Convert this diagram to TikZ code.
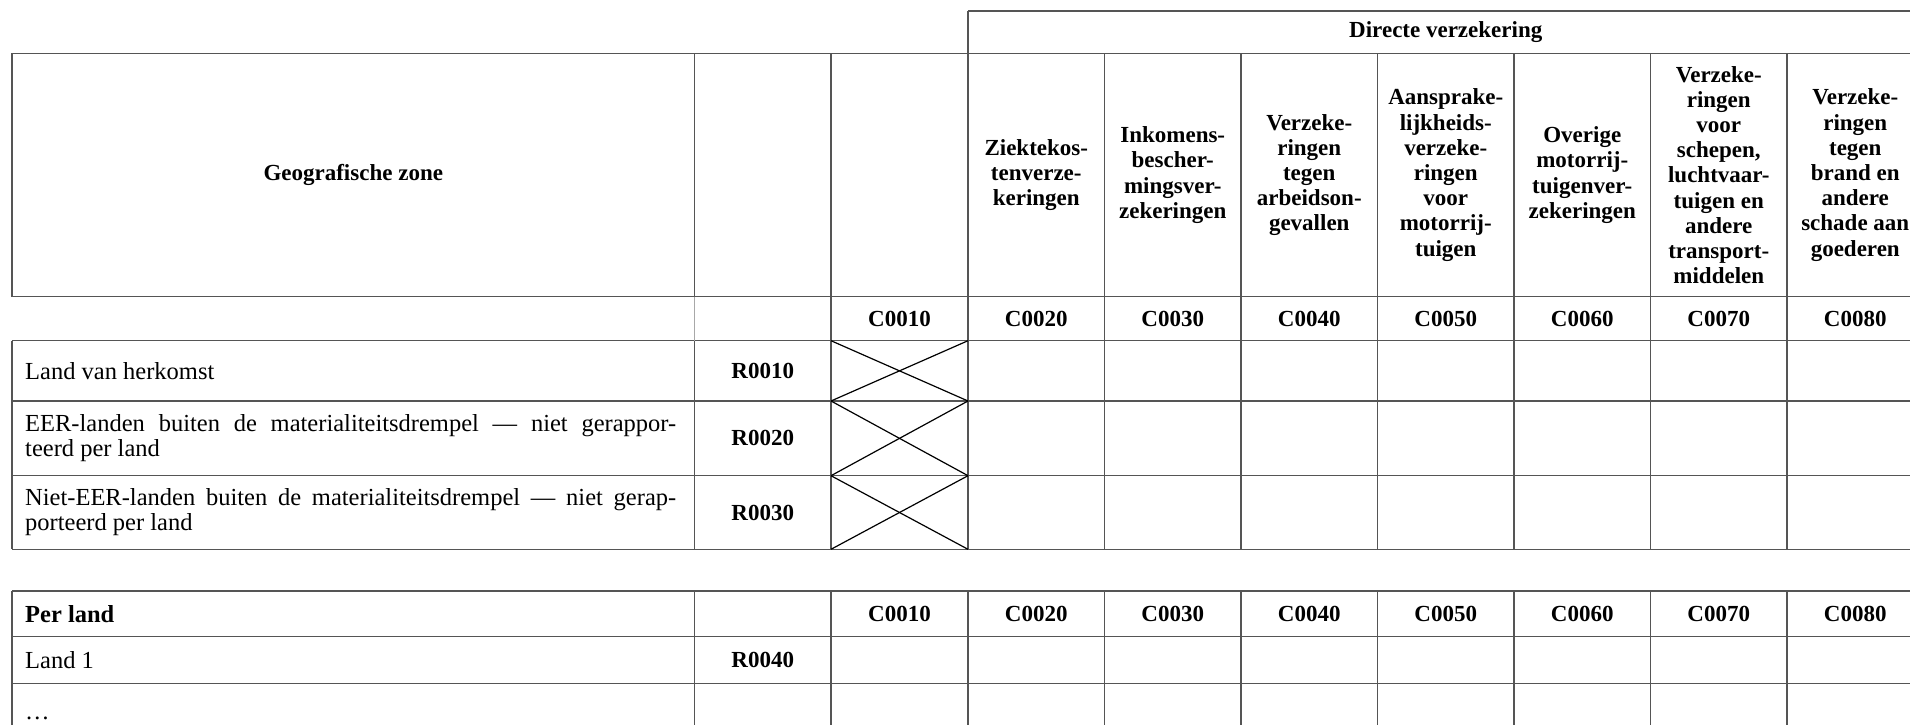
\documentclass[tikz,border=0pt]{standalone}
\usepackage{fontspec}
\setmainfont{Liberation Serif}
\definecolor{linegray}{HTML}{555555}
\definecolor{lightline}{HTML}{A8A8A8}
\begin{document}
\begin{tikzpicture}[x=1pt,y=-1pt,
  grid/.style={draw=linegray,line width=1.5pt},
  faint/.style={draw=lightline,line width=1.2pt},
  crossline/.style={draw=black,line width=1.2pt},
  hdr/.style={font=\fontsize{23}{25.2}\selectfont\bfseries,align=center,inner sep=0pt},
  code/.style={font=\fontsize{23}{25}\selectfont\bfseries,inner sep=0pt},
  lbl/.style={font=\fontsize{24.5}{25}\selectfont,inner sep=0pt,anchor=west},
  para/.style={font=\fontsize{24.5}{25}\selectfont,inner sep=0pt,anchor=west,text width=651pt,align=justify}]
\useasboundingbox (0,0) rectangle (1910,725);
\fill[white] (0,0) rectangle (1910,725);

% top box "Directe verzekering"
\draw[grid] (968,11) -- (1910,11);
\draw[grid] (968,11) -- (968,53.5);

% horizontal rules
\foreach \y in {53.5,296.5,340.7,401,475.7,549.3,591,636.7,683.3}
  \draw[grid] (12,\y) -- (1910,\y);

% left border
\draw[grid] (12,53.5) -- (12,296.5);
\draw[grid] (12,340.7) -- (12,549.3);
\draw[grid] (12,591) -- (12,725);

% vertical rules
\draw[grid] (694.5,53.5) -- (694.5,296.5);
\draw[faint] (694.5,296.5) -- (694.5,340.7);
\draw[grid] (694.5,340.7) -- (694.5,549.3);
\draw[grid] (694.5,591) -- (694.5,725);
\foreach \x in {831,968,1104.5,1241,1377.5,1514,1650.5,1787}{
  \draw[grid] (\x,53.5) -- (\x,549.3);
  \draw[grid] (\x,591) -- (\x,725);
}

% crossed cells
\foreach \ya/\yb in {340.7/401,401/475.7,475.7/549.3}{
  \draw[crossline] (831,\ya) -- (968,\yb);
  \draw[crossline] (831,\yb) -- (968,\ya);
}

% header texts
\node[hdr] (geo) at (353.25,175) {Geografische zone};
\node[hdr] (dv) at (1445.75,32) {Directe verzekering};
\node[hdr] (h20) at (1036.25,175) {Ziektekos-\\tenverze-\\keringen};
\node[hdr] (h30) at (1172.75,175) {Inkomens-\\bescher-\\mingsver-\\zekeringen};
\node[hdr] (h40) at (1309.25,175) {Verzeke-\\ringen\\tegen\\arbeidson-\\gevallen};
\node[hdr] (h50) at (1445.75,175) {Aansprake-\\lijkheids-\\verzeke-\\ringen\\voor\\motorrij-\\tuigen};
\node[hdr] (h60) at (1582.25,175) {Overige\\motorrij-\\tuigenver-\\zekeringen};
\node[hdr] (h70) at (1718.75,175) {Verzeke-\\ringen\\voor\\schepen,\\luchtvaar-\\tuigen en\\andere\\transport-\\middelen};
\node[hdr] (h80) at (1855.25,175) {Verzeke-\\ringen\\tegen\\brand en\\andere\\schade aan\\goederen};

% column codes (first table)
\node[code] (a10) at (899.5,318.6) {C0010};
\node[code] (a20) at (1036.25,318.6) {C0020};
\node[code] (a30) at (1172.75,318.6) {C0030};
\node[code] (a40) at (1309.25,318.6) {C0040};
\node[code] (a50) at (1445.75,318.6) {C0050};
\node[code] (a60) at (1582.25,318.6) {C0060};
\node[code] (a70) at (1718.75,318.6) {C0070};
\node[code] (a80) at (1855.25,318.6) {C0080};

% column codes (second table)
\node[code] (b10) at (899.5,613.85) {C0010};
\node[code] (b20) at (1036.25,613.85) {C0020};
\node[code] (b30) at (1172.75,613.85) {C0030};
\node[code] (b40) at (1309.25,613.85) {C0040};
\node[code] (b50) at (1445.75,613.85) {C0050};
\node[code] (b60) at (1582.25,613.85) {C0060};
\node[code] (b70) at (1718.75,613.85) {C0070};
\node[code] (b80) at (1855.25,613.85) {C0080};

% row codes
\node[code] (r10) at (762.75,370.85) {R0010};
\node[code] (r20) at (762.75,438.35) {R0020};
\node[code] (r30) at (762.75,512.5) {R0030};
\node[code] (r40) at (762.75,660) {R0040};

% row labels
\node[lbl] (l10) at (25,370.85) {Land van herkomst};
\node[para] (l20) at (25,438.35) {EER-landen buiten de materialiteitsdrempel — niet gerappor-\linebreak teerd per land};
\node[para] (l30) at (25,512.5) {Niet-EER-landen buiten de materialiteitsdrempel — niet gerap-\linebreak porteerd per land};
\node[lbl,font=\fontsize{24.5}{25}\selectfont\bfseries] (pl) at (25,613.85) {Per land};
\node[lbl] (l40) at (25,660) {Land 1};
\node[lbl,anchor=base west] (ldots) at (25,719) {\dots};
\end{tikzpicture}
\end{document}
